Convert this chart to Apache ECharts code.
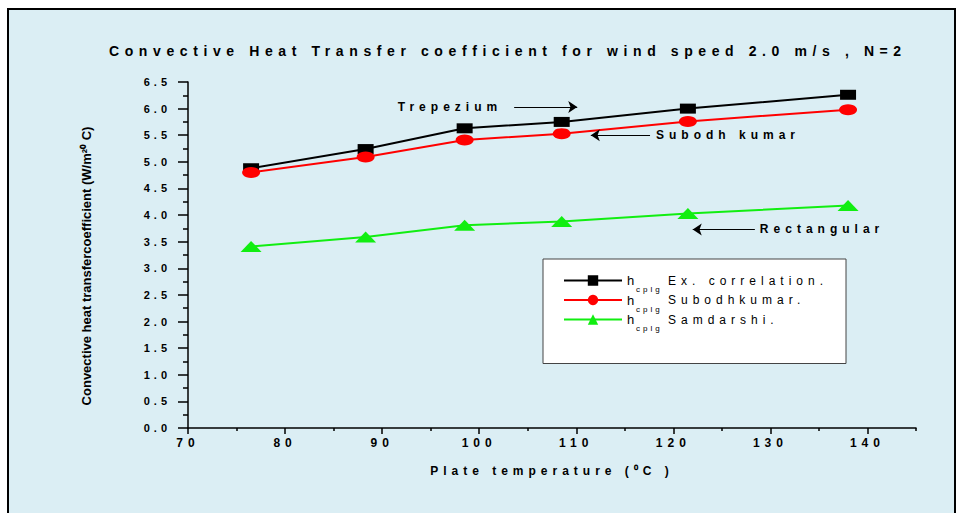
<!DOCTYPE html>
<html>
<head>
<meta charset="utf-8">
<script src="https://cdn.jsdelivr.net/npm/echarts@6/dist/echarts.min.js"></script>
<style>
  html, body { margin: 0; padding: 0; background: #fff; }
  #chart { width: 963px; height: 513px; }
</style>
</head>
<body>
<div id="chart"></div>
<script>
// plate temperature (°C) and h values
const temps = [76.5, 88.3, 98.5, 108.5, 121.5, 138.0]
const exCorrelation = [4.88, 5.24, 5.63, 5.75, 6.00, 6.26]
const subodhkumar = [4.80, 5.09, 5.41, 5.53, 5.76, 5.98]
const samdarshi = [3.41, 3.59, 3.81, 3.88, 4.03, 4.18]

const seriesNames = ['Ex. correlation.', 'Subodhkumar.', 'Samdarshi.']

const xMajorTicks = [70, 80, 90, 100, 110, 120, 130, 140]
const xMinorTicks = [75, 85, 95, 105, 115, 125, 135, 145]

// arrow annotations, in data units: text, tail x, head x, y
const noteTexts = ['Trepezium', 'Subodh kumar', 'Rectangular']
const noteTail = [103.6, 117.6, 128.4]
const noteHead = [110.1, 111.5, 122.0]
const noteY = [6.03, 5.50, 3.73]

const FONT = 'Arial, "Liberation Sans", sans-serif'
const noteLabel = [
  { distance: 12, padding: [0, 0, 10, 0] },
  { distance: 6, padding: [4, 0, 0, 0] },
  { distance: 5, padding: [0, 0, 5, 0] }
]

const chart = echarts.init(document.getElementById('chart'), null, { renderer: 'svg' })

function pairs(ys) {
  return temps.map((t, i) => [t, ys[i]])
}

const option = {
  backgroundColor: '#fff',
  animation: false,
  graphic: [
    {
      type: 'rect',
      z: -10,
      silent: true,
      shape: { x: 8, y: 9, width: 947, height: 520 },
      style: { fill: '#dbeef4', stroke: '#000', lineWidth: 2 }
    }
  ],
  title: {
    text: 'Convective Heat Transfer coefficient for wind speed 2.0 m/s , N=2',
    left: 109,
    top: 44,
    padding: 0,
    textStyle: { fontFamily: FONT, fontSize: 14, fontWeight: 'bold', color: '#000' }
  },
  grid: { left: 188, right: 47, top: 82, bottom: 85 },
  legend: {
    orient: 'vertical',
    left: 543,
    top: 259,
    padding: [15, 8, 31, 20],
    itemGap: 0,
    itemWidth: 58,
    itemHeight: 13,
    backgroundColor: '#fff',
    borderColor: '#444',
    borderWidth: 1,
    selectedMode: false,
    data: seriesNames,
    formatter: name => '{h|h}{s|cplg}{t|' + name + '}',
    textStyle: {
      fontFamily: FONT,
      color: '#000',
      rich: {
        h: { fontFamily: FONT, fontSize: 13, width: 9, lineHeight: 26, verticalAlign: 'middle' },
        s: { fontFamily: FONT, fontSize: 8, width: 32, lineHeight: 10, verticalAlign: 'bottom' },
        t: { fontFamily: FONT, fontSize: 12, width: 170, lineHeight: 26, verticalAlign: 'middle' }
      }
    }
  },
  xAxis: [
    {
      type: 'value',
      min: 70,
      max: 145,
      name: 'Plate temperature (\u2070C )',
      nameLocation: 'middle',
      nameGap: 37,
      nameTextStyle: { fontFamily: FONT, fontSize: 12, fontWeight: 'bold', color: '#000' },
      axisLine: { show: true, lineStyle: { color: '#000', width: 1.5 } },
      axisTick: { customValues: xMajorTicks, length: 6, lineStyle: { color: '#000', width: 1.5 } },
      axisLabel: {
        customValues: xMajorTicks,
        margin: 9,
        fontFamily: FONT,
        fontSize: 12,
        fontWeight: 'bold',
        color: '#000'
      },
      splitLine: { show: false }
    },
    {
      type: 'value',
      min: 70,
      max: 145,
      position: 'bottom',
      axisLine: { show: false },
      axisTick: { show: true, customValues: xMinorTicks, length: 3, lineStyle: { color: '#000', width: 1.5 } },
      axisLabel: { show: false },
      splitLine: { show: false }
    }
  ],
  yAxis: {
    type: 'value',
    min: 0,
    max: 6.5,
    interval: 0.5,
    name: 'Convective heat transfercoefficient (W/m\u00B2\u2070 C)',
    nameLocation: 'middle',
    nameGap: 95,
    nameTextStyle: {
      fontFamily: FONT,
      fontSize: 13,
      fontWeight: 'bold',
      color: '#000',
      padding: [0, 22, 0, 0]
    },
    axisLine: { show: true, lineStyle: { color: '#000', width: 1.5 } },
    axisTick: { length: 10, lineStyle: { color: '#000', width: 1.5 } },
    minorTick: { show: true, splitNumber: 2, length: 5, lineStyle: { color: '#000', width: 1.5 } },
    axisLabel: {
      margin: 17,
      fontFamily: FONT,
      fontSize: 11,
      fontWeight: 'bold',
      color: '#000',
      formatter: v => v.toFixed(1)
    },
    splitLine: { show: false }
  },
  series: [
    {
      name: seriesNames[0],
      type: 'line',
      data: pairs(exCorrelation),
      symbol: 'rect',
      symbolSize: [16, 10],
      lineStyle: { color: '#000', width: 2 },
      itemStyle: { color: '#000' },
      markLine: {
        silent: true,
        symbol: ['none', 'arrow'],
        symbolSize: 9,
        lineStyle: { color: '#000', width: 1, type: 'solid' },
        label: {
          show: true,
          position: 'start',
          formatter: '{b}',
          fontFamily: FONT,
          fontSize: 12,
          fontWeight: 'bold',
          color: '#000'
        },
        data: noteTexts.map((text, i) => [
          { name: text, coord: [noteTail[i], noteY[i]], label: noteLabel[i] },
          { coord: [noteHead[i], noteY[i]] }
        ])
      }
    },
    {
      name: seriesNames[1],
      type: 'line',
      data: pairs(subodhkumar),
      symbol: 'circle',
      symbolSize: [18, 11],
      lineStyle: { color: '#ff0000', width: 2 },
      itemStyle: { color: '#ff0000' }
    },
    {
      name: seriesNames[2],
      type: 'line',
      data: pairs(samdarshi),
      symbol: 'triangle',
      symbolSize: [21, 11],
      lineStyle: { color: '#11ee11', width: 2 },
      itemStyle: { color: '#11ee11' }
    }
  ]
}

chart.setOption(option)

// the original figure uses widely tracked lettering, except the y axis name
function spreadLetters() {
  document.querySelectorAll('#chart svg text').forEach(el => {
    const s = el.textContent
    let ls = 5
    if (s.indexOf('transfercoefficient') >= 0 || s === 'h') ls = 0
    else if (s.indexOf('Convective Heat') === 0) ls = 5.6
    else if (s === 'cplg') ls = 3
    else if (/^\d\.\d$/.test(s)) ls = 4
    el.setAttribute('letter-spacing', ls)
  })
}
spreadLetters()
chart.on('finished', spreadLetters)
</script>
</body>
</html>
